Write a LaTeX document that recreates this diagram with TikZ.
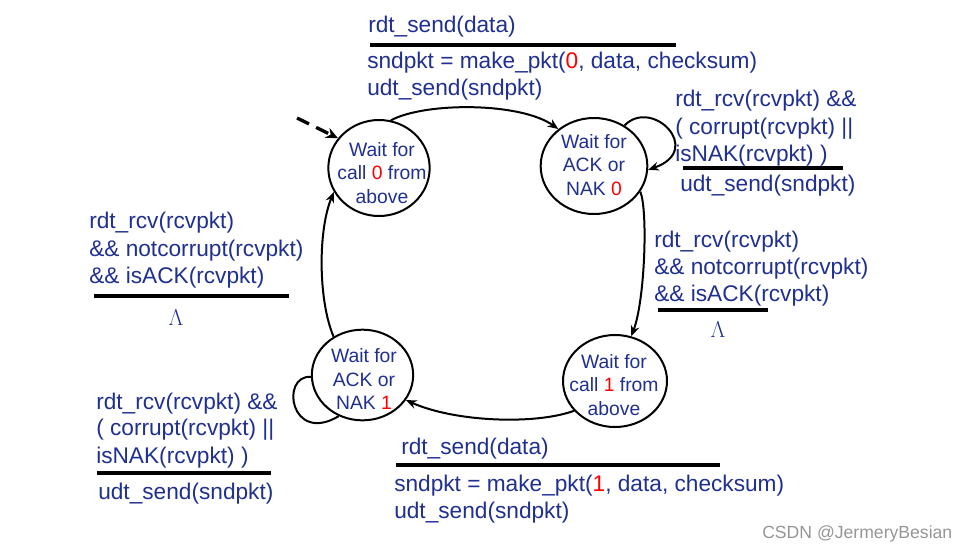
\documentclass[tikz,border=0pt]{standalone}
\usepackage{fontspec}
\setmainfont{Liberation Sans}
\usetikzlibrary{arrows.meta,shapes.geometric}
\definecolor{navy}{RGB}{32,48,145}
\definecolor{wm}{RGB}{150,150,150}
\tikzset{
  state/.style={draw=black, line width=1.5pt, shape=ellipse, inner sep=0pt},
  statetext/.style={align=center, inner sep=0pt, text=navy, font=\fontsize{14.5}{17.6}\selectfont},
  lbl/.style={anchor=base west, inner sep=0pt, text=navy, font=\fontsize{17}{20}\selectfont},
  lam/.style={inner sep=0pt, text=navy, font=\fontsize{19}{22}\selectfont},
  sepline/.style={line width=2.5pt, black},
  edge/.style={line width=1.5pt, -{Stealth[length=8pt,width=6.5pt]}},
  loopedge/.style={line width=1.5pt},
  initedge/.style={line width=2.5pt, dash pattern=on 10pt off 6pt, -{Stealth[length=9pt,width=8pt]}}
}
\begin{document}
\begin{tikzpicture}[x=0.75pt,y=-0.75pt]
\useasboundingbox (0,0) rectangle (967,551);
\fill[white] (0,0) rectangle (967,551);

% states
\node[state, minimum width=76pt, minimum height=72pt] (s1) at (379,168) {};
\node[state, minimum width=80pt, minimum height=72pt] (s2) at (594,166) {};
\node[state, minimum width=78pt, minimum height=69pt] (s3) at (615,381) {};
\node[state, minimum width=76pt, minimum height=68pt] (s4) at (362.5,375) {};

\node[statetext] (t1) at (382,173) {Wait for\\call \textcolor{red}{0} from\\above};
\node[statetext] (t2) at (594,165) {Wait for\\ACK or\\NAK \textcolor{red}{0}};
\node[statetext] (t3) at (614,385) {Wait for\\call \textcolor{red}{1} from\\above};
\node[statetext] (t4) at (364,379) {Wait for\\ACK or\\NAK \textcolor{red}{1}};

% initial
\coordinate (init) at (297,118);
\draw[initedge] (init) -- (s1.144);

% transitions
\draw[edge] (s1.76) .. controls (425,102) and (520,102) .. (s2.134);
\draw[edge] (s2.53) .. controls (652,97) and (705,150) .. (s2.-4);
\draw[edge] (s2.-29) .. controls (648,210) and (645,300) .. (s3.70);
\draw[edge] (s3.216) .. controls (535,425) and (455,422) .. (s4.-30);
\draw[loopedge] (s4.182) .. controls (280,375) and (290,445) .. (s4.240);
\draw[edge] (s4.127) .. controls (318,300) and (318,230) .. (s1.208);

% top label
\node[lbl] (a1) at (368,32) {rdt\_send(data)};
\draw[sepline] (370,45) -- (676,45);
\node[lbl] (a2) at (367,68) {sndpkt = make\_pkt(\textcolor{red}{0}, data, checksum)};
\node[lbl] (a3) at (367,95) {udt\_send(sndpkt)};

% right top label
\node[lbl] (b1) at (675,106) {rdt\_rcv(rcvpkt) \&\&};
\node[lbl] (b2) at (675,134) {( corrupt(rcvpkt) ||};
\node[lbl] (b3) at (675,161) {isNAK(rcvpkt) )};
\draw[sepline] (683,168) -- (843,168);
\node[lbl] (b4) at (680,191) {udt\_send(sndpkt)};

% right middle label
\node[lbl] (c1) at (654,247) {rdt\_rcv(rcvpkt)};
\node[lbl] (c2) at (654,274) {\&\& notcorrupt(rcvpkt)};
\node[lbl] (c3) at (654,301) {\&\& isACK(rcvpkt)};
\draw[sepline] (658,310) -- (768,310);
\node[lam] (c4) at (718,330) {$\Lambda$};

% left label
\node[lbl] (d1) at (89,228) {rdt\_rcv(rcvpkt)};
\node[lbl] (d2) at (89,256) {\&\& notcorrupt(rcvpkt)};
\node[lbl] (d3) at (89,283) {\&\& isACK(rcvpkt)};
\draw[sepline] (94,296) -- (289,296);
\node[lam] (d4) at (176,318) {$\Lambda$};

% bottom left label
\node[lbl] (e1) at (96,409) {rdt\_rcv(rcvpkt) \&\&};
\node[lbl] (e2) at (96,435) {( corrupt(rcvpkt) ||};
\node[lbl] (e3) at (96,463) {isNAK(rcvpkt) )};
\draw[sepline] (97,473) -- (271,473);
\node[lbl] (e4) at (98,499) {udt\_send(sndpkt)};

% bottom label
\node[lbl] (f1) at (401,454) {rdt\_send(data)};
\draw[sepline] (396,465) -- (720,465);
\node[lbl] (f2) at (394,491) {sndpkt = make\_pkt(\textcolor{red}{1}, data, checksum)};
\node[lbl] (f3) at (394,518) {udt\_send(sndpkt)};

% watermark
\node[anchor=base west, inner sep=0pt, text=wm, font=\fontsize{13.2}{15}\selectfont] (wmk) at (762,538) {CSDN @JermeryBesian};
\end{tikzpicture}
\end{document}
